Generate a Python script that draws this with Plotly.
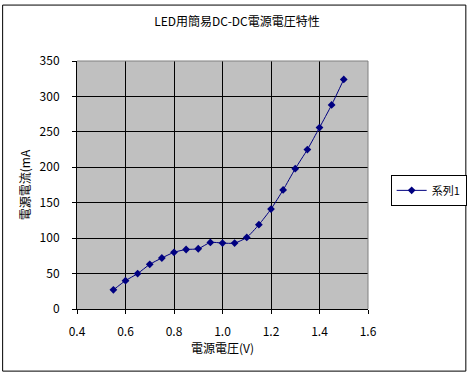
import plotly.graph_objects as go

voltage = [0.55, 0.60, 0.65, 0.70, 0.75, 0.80, 0.85, 0.90, 0.95, 1.00, 1.05,
           1.10, 1.15, 1.20, 1.25, 1.30, 1.35, 1.40, 1.45, 1.50]
current = [27, 40, 50, 63, 72, 80, 84, 85, 94, 93, 93,
           101, 119, 141, 168, 198, 225, 256, 288, 324]
series_name = "系列1"
title_text = "LED用簡易DC-DC電源電圧特性"
x_title = "電源電圧(V)"
y_title = "電源電流(mA"

W, H = 471, 378
L, R, T, B = 76.5, 368, 61, 309.3
pw, ph = R - L, B - T

def px(x):
    return (x - L) / pw

def py(y):
    return (B - y) / ph

font_family = "Noto Sans CJK JP, DejaVu Sans, sans-serif"

fig = go.Figure()
fig.add_trace(go.Scatter(
    x=voltage, y=current, name=series_name, mode="lines+markers",
    line=dict(color="#000080", width=1, shape="spline", smoothing=0.6),
    marker=dict(symbol="diamond", size=6, color="#000080"),
    showlegend=True,
))

fig.update_layout(
    width=W, height=H,
    margin=dict(l=L, r=W - R, t=T, b=H - B, pad=0, autoexpand=False),
    paper_bgcolor="white",
    plot_bgcolor="#C0C0C0",
    font=dict(family=font_family, size=12, color="black"),
    title=dict(text=title_text, x=237 / W, xanchor="center", y=1 - 22 / H,
               yanchor="middle", font=dict(size=12)),
    xaxis=dict(range=[0.4, 1.6], dtick=0.2, tickformat=".1f",
               showgrid=True, gridcolor="black", gridwidth=1,
               showline=True, linecolor="black", linewidth=1,
               ticks="outside", ticklen=4, tickcolor="black",
               ticklabelstandoff=8,
               zeroline=False, mirror=False, automargin=False,
               title=dict(text=x_title, standoff=6, font=dict(size=12))),
    yaxis=dict(range=[0, 350], dtick=50,
               showgrid=True, gridcolor="black", gridwidth=1,
               showline=True, linecolor="black", linewidth=1,
               ticks="outside", ticklen=4, tickcolor="black",
               ticklabelstandoff=10,
               zeroline=False, automargin=False,
               title=dict(text=y_title, standoff=6, font=dict(size=12))),
    legend=dict(x=px(390.7), y=py(175), xanchor="left", yanchor="top",
                bgcolor="white", bordercolor="black", borderwidth=1,
                font=dict(size=11), itemwidth=30, tracegroupgap=0),
    showlegend=True,
)

# plot area top/right border (gray)
fig.add_shape(type="line", xref="paper", yref="paper", x0=0, x1=1, y0=1, y1=1,
              line=dict(color="#808080", width=1))
fig.add_shape(type="line", xref="paper", yref="paper", x0=1, x1=1, y0=0, y1=1,
              line=dict(color="#808080", width=1))
# outer chart border
fig.add_shape(type="rect", xref="paper", yref="paper",
              x0=px(2), x1=px(466), y0=py(371.5), y1=py(5),
              line=dict(color="black", width=1), fillcolor="rgba(0,0,0,0)",
              layer="below")

fig.write_html("out.html", config={"displayModeBar": False},
               post_script="document.body.style.margin='0';document.body.style.overflow='hidden';")
